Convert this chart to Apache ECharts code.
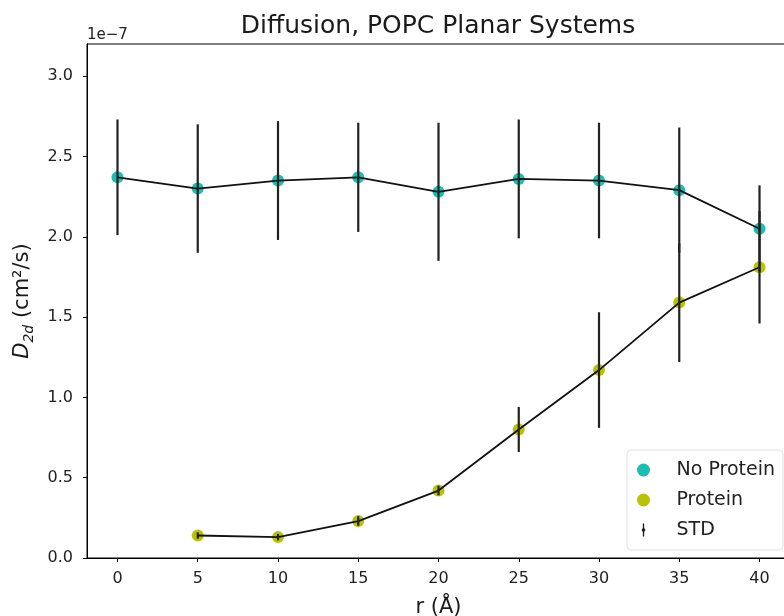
<!DOCTYPE html>
<html>
<head>
<meta charset="utf-8">
<script src="https://cdn.jsdelivr.net/npm/echarts@6/dist/echarts.min.js"></script>
<style>html,body{margin:0;padding:0;background:#fff}#c{width:784px;height:616px}</style>
</head>
<body>
<div id="c"></div>
<script>
// values in units of 1e-7 cm^2/s
const rNoProtein = [0, 5, 10, 15, 20, 25, 30, 35, 40];
const dNoProtein = [2.37, 2.30, 2.35, 2.37, 2.28, 2.36, 2.35, 2.29, 2.05];
const stdNoProtein = [0.36, 0.40, 0.37, 0.34, 0.43, 0.37, 0.36, 0.39, 0.27];
const rProtein = [5, 10, 15, 20, 25, 30, 35, 40];
const dProtein = [0.14, 0.13, 0.23, 0.42, 0.80, 1.17, 1.59, 1.81];
const stdProtein = [0.02, 0.02, 0.03, 0.03, 0.14, 0.36, 0.37, 0.35];
const xTicks = [0, 5, 10, 15, 20, 25, 30, 35, 40];
const yTicks = [0.0, 0.5, 1.0, 1.5, 2.0, 2.5, 3.0];

const FONT = 'DejaVu Sans';
const TEAL = '#19bfb2';
const OLIVE = '#b9c400';

const pairs = (xs, ys) => xs.map((x, i) => [x, ys[i]]);
const errData = rNoProtein.map((x, i) => [x, dNoProtein[i] - stdNoProtein[i], dNoProtein[i] + stdNoProtein[i]])
  .concat(rProtein.map((x, i) => [x, dProtein[i] - stdProtein[i], dProtein[i] + stdProtein[i]]));

const chart = echarts.init(document.getElementById('c'), null, {renderer: 'canvas'});
chart.setOption({
  animation: false,
  backgroundColor: '#fff',
  textStyle: {fontFamily: FONT},
  title: {
    text: 'Diffusion, POPC Planar Systems',
    left: 438, top: 14, textAlign: 'center', padding: 0,
    textStyle: {fontFamily: FONT, fontSize: 25, fontWeight: 'normal', color: '#1a1a1a'}
  },
  graphic: [{
    type: 'text', left: 87, top: 28,
    style: {text: '1e\u22127', fontFamily: FONT, fontSize: 15, fill: '#222'}
  }],
  grid: {left: 87, right: -6, top: 44, bottom: 58, show: true, borderColor: '#000', borderWidth: 1,
         containLabel: false, outerBoundsMode: 'none'},
  legend: {
    orient: 'vertical', left: 627, top: 450,
    padding: [10, 8, 10, 10],
    itemWidth: 56, itemHeight: 13, itemGap: 10,
    backgroundColor: 'rgba(255,255,255,0.85)', borderColor: '#e2e2e2', borderWidth: 1, borderRadius: 4,
    textStyle: {fontFamily: FONT, fontSize: 19, color: '#222', lineHeight: 20},
    data: [
      {name: 'No Protein', icon: 'circle'},
      {name: 'Protein', icon: 'circle'},
      {name: 'STD', icon: 'path://M3,0 L5,0 L5,7 L7,10 L5,13 L5,20 L3,20 L3,13 L1,10 L3,7 Z'}
    ]
  },
  xAxis: {
    type: 'value', min: -1.9, max: 41.9,
    name: 'r (\u00c5)', nameLocation: 'middle', nameGap: 39,
    nameTextStyle: {fontFamily: FONT, fontSize: 21, color: '#1a1a1a'},
    splitLine: {show: false},
    axisLine: {show: true, onZero: false, lineStyle: {color: '#000', width: 1}},
    axisTick: {show: true, length: 4, customValues: xTicks, lineStyle: {color: '#000'}},
    axisLabel: {customValues: xTicks, fontSize: 16, color: '#222', margin: 13, fontFamily: FONT}
  },
  yAxis: {
    type: 'value', min: 0, max: 3.2,
    name: '{i|D}{s|2d}{n| (cm\u00b2/s)}', nameLocation: 'middle', nameGap: 38,
    nameTextStyle: {
      fontFamily: FONT, fontSize: 21, color: '#1a1a1a',
      rich: {
        i: {fontFamily: FONT, fontSize: 21, fontStyle: 'italic', lineHeight: 24, verticalAlign: 'top', color: '#1a1a1a'},
        s: {fontFamily: FONT, fontSize: 14, fontStyle: 'italic', lineHeight: 36, color: '#1a1a1a'},
        n: {fontFamily: FONT, fontSize: 21, lineHeight: 24, verticalAlign: 'top', color: '#1a1a1a'}
      }
    },
    splitLine: {show: false},
    axisLine: {show: true, onZero: false, lineStyle: {color: '#000', width: 1}},
    axisTick: {show: true, length: 4, customValues: yTicks, lineStyle: {color: '#000'}},
    axisLabel: {customValues: yTicks, fontSize: 16, color: '#222', margin: 14, fontFamily: FONT,
      formatter: v => Number(v).toFixed(1)}
  },
  series: [
    {name: 'No Protein', type: 'scatter', data: pairs(rNoProtein, dNoProtein), symbolSize: 12,
     itemStyle: {color: TEAL, opacity: 1}, z: 2},
    {name: 'Protein', type: 'scatter', data: pairs(rProtein, dProtein), symbolSize: 12,
     itemStyle: {color: OLIVE, opacity: 1}, z: 2},
    {name: 'lineNP', type: 'line', data: pairs(rNoProtein, dNoProtein), showSymbol: false, symbol: 'none',
     lineStyle: {color: '#111', width: 1.8}, z: 3},
    {name: 'lineP', type: 'line', data: pairs(rProtein, dProtein), showSymbol: false, symbol: 'none',
     lineStyle: {color: '#111', width: 1.8}, z: 3},
    {name: 'STD', type: 'custom', data: errData, z: 4,
     itemStyle: {color: '#1a1a1a'},
     renderItem: function (params, api) {
       const lo = api.coord([api.value(0), api.value(1)]);
       const hi = api.coord([api.value(0), api.value(2)]);
       return {type: 'line', shape: {x1: lo[0], y1: lo[1], x2: hi[0], y2: hi[1]},
               style: {stroke: '#222', lineWidth: 2.2}};
     },
     encode: {x: 0, y: [1, 2]}}
  ]
});
</script>
</body>
</html>
